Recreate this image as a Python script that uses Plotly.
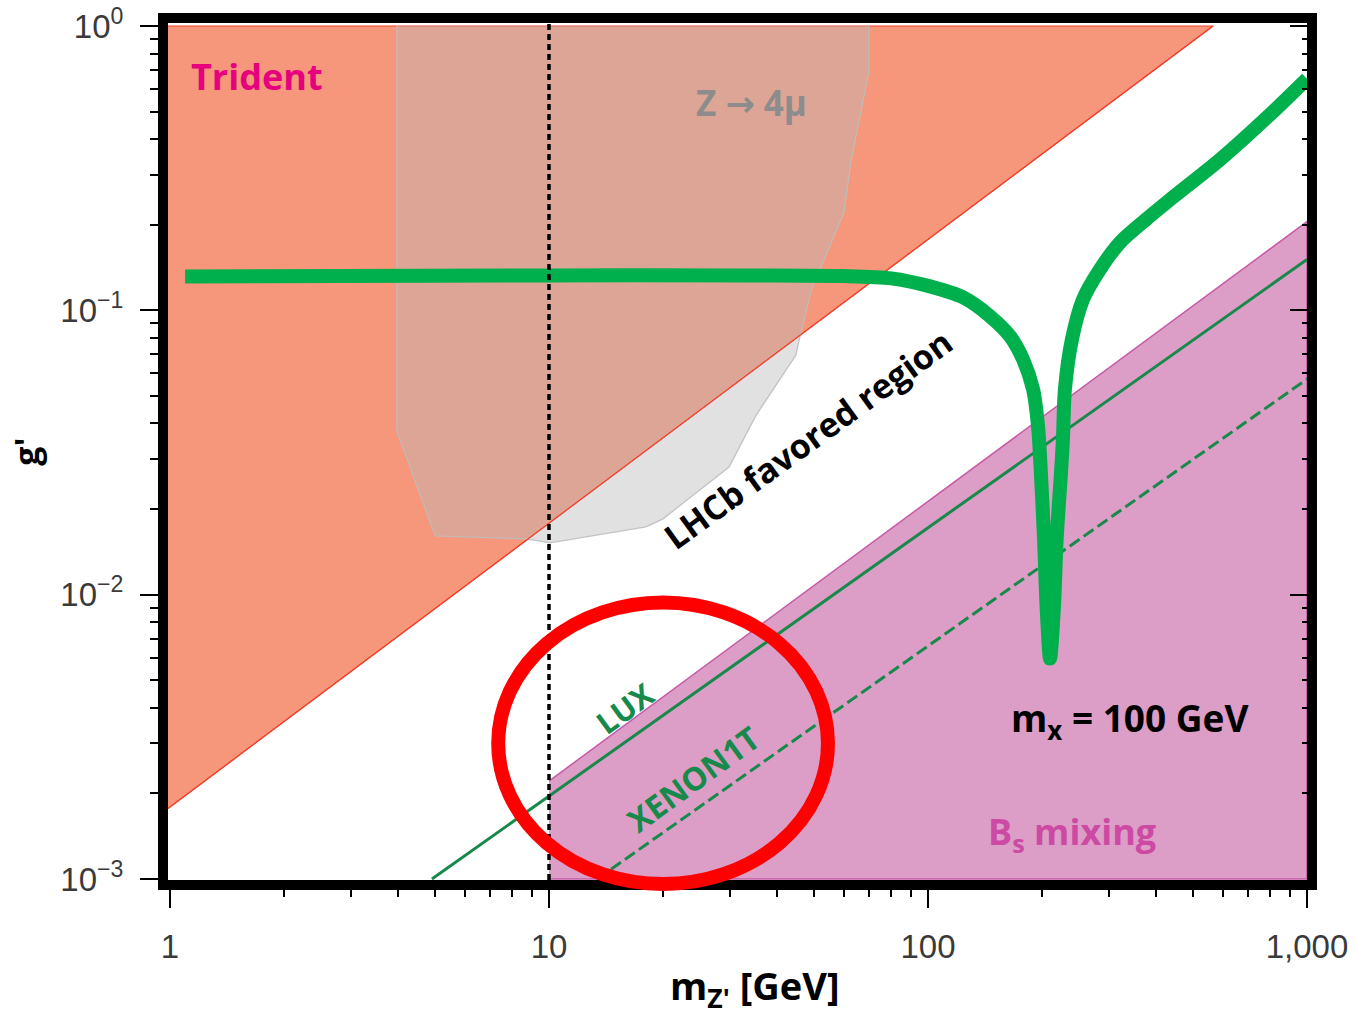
import numpy as np
import plotly.graph_objects as go

# ---- data (Z' mass in GeV, coupling g') ----
# Trident exclusion boundary (region above the line is excluded)
trident_m = [0.988, 565.0]
trident_g = [0.00177, 1.0]

# Z -> 4 mu exclusion contour
z4mu_m = [3.97, 3.97, 5.01, 8.70, 10.06, 18.03, 19.99, 29.86, 35.2, 44.8, 45.7,
          49.4, 60.0, 62.6, 69.8, 69.8]
z4mu_g = [1.0, 0.0376, 0.0161, 0.0157, 0.01522, 0.01733, 0.01848, 0.02812,
          0.0428, 0.0695, 0.0785, 0.1194, 0.2208, 0.3334, 0.690, 1.0]

# Bs mixing exclusion boundary (region below the line is excluded)
bs_m = [10.0, 1000.0]
bs_g = [0.00221, 0.205]

# Direct detection limits
lux_m = [4.91, 1000.0]
lux_g = [0.001, 0.151]
xenon_m = [13.4, 1000.0]
xenon_g = [0.001, 0.0573]

# Relic-density curve for m_chi = 100 GeV
relic_m = [1.096, 9.94, 33.9, 60.0, 80.0, 101.2, 123.7, 145.8, 164.6, 178.1, 189.3,
           195.1, 198.5, 202.4, 205.5, 209.9, 215.0, 218.5, 224.4, 227.0, 229.8,
           239.8, 256.5, 284.3, 321.2, 375.0, 435.2, 589.5, 798.3, 1000.0]
relic_g = [0.1316, 0.1327, 0.1327, 0.1320, 0.1295, 0.1214, 0.1111, 0.0953, 0.0811,
           0.0673, 0.0528, 0.0392, 0.0270, 0.0157, 0.00914, 0.00596, 0.00914,
           0.0157, 0.0270, 0.0353, 0.0528, 0.0791, 0.1093, 0.1393, 0.1733,
           0.2080, 0.2450, 0.3388, 0.4877, 0.6517]

# LHCb reference mass
lhcb_m = 10.0

# Axis ticks
x_ticks = [1, 10, 100, 1000]
x_ticktext = ["1", "10", "100", "1,000"]
y_ticks = [1e-3, 1e-2, 1e-1, 1]
y_ticktext = ["10<sup>\u22123</sup>", "10<sup>\u22122</sup>", "10<sup>\u22121</sup>", "10<sup>0</sup>"]
minor_x = [k * 10 ** d for d in range(0, 3) for k in range(2, 10)]
minor_y = [k * 10 ** d for d in range(-3, 0) for k in range(2, 10)]

X_RANGE = [-0.00528, 3.0]
Y_RANGE = [-3.0035, 0.0105]

SALMON = "#F6967A"
PINK = "#DC9DC6"
GREEN = "#00B04C"
DKGREEN = "#17894A"

fig = go.Figure()

# Bs mixing region
fig.add_trace(go.Scatter(
    x=bs_m + [bs_m[-1], bs_m[0]], y=bs_g + [1e-3, 1e-3],
    fill="toself", fillcolor=PINK, mode="lines",
    line=dict(color="#C65AA6", width=1.5), hoverinfo="skip", showlegend=False))

# Trident region
fig.add_trace(go.Scatter(
    x=trident_m + [trident_m[0]], y=trident_g + [trident_g[-1]],
    fill="toself", fillcolor=SALMON, mode="lines",
    line=dict(color="#F0442E", width=1.2), hoverinfo="skip", showlegend=False))

# Z -> 4 mu region
fig.add_trace(go.Scatter(
    x=z4mu_m, y=z4mu_g, fill="toself", fillcolor="rgba(186,186,186,0.43)",
    mode="lines", line=dict(color="rgba(190,190,190,0.9)", width=1.3),
    hoverinfo="skip", showlegend=False))

# Trident edge drawn again above the grey contour
fig.add_trace(go.Scatter(
    x=trident_m, y=trident_g, mode="lines",
    line=dict(color="#F0442E", width=1.2), hoverinfo="skip", showlegend=False))

# LUX and XENON1T
fig.add_trace(go.Scatter(
    x=lux_m, y=lux_g, mode="lines", line=dict(color=DKGREEN, width=3),
    hoverinfo="skip", showlegend=False))
fig.add_trace(go.Scatter(
    x=xenon_m, y=xenon_g, mode="lines",
    line=dict(color=DKGREEN, width=3, dash="12px,5px"),
    hoverinfo="skip", showlegend=False))

# Relic density curve
fig.add_trace(go.Scatter(
    x=relic_m, y=relic_g, mode="lines",
    line=dict(color=GREEN, width=14, shape="spline", smoothing=0.8),
    hoverinfo="skip", showlegend=False))

# Vertical marker at 10 GeV (on the right-hand axis, which mirrors the left)
fig.add_trace(go.Scatter(
    x=[lhcb_m, lhcb_m], y=[10 ** Y_RANGE[0], 10 ** Y_RANGE[1]], yaxis="y2",
    mode="lines", line=dict(color="black", width=3.5, dash="6px,4px"),
    hoverinfo="skip", showlegend=False))

L, R, T, B = 168, 49, 23, 135
W, H = 1356, 1015


def to_paper_x(m):
    return (np.log10(m) - X_RANGE[0]) / (X_RANGE[1] - X_RANGE[0])


def to_paper_y(g):
    return (np.log10(g) - Y_RANGE[0]) / (Y_RANGE[1] - Y_RANGE[0])


# Highlight ellipse around the low-mass corner
ell_c = (20.0, 0.0030)
ell_dx, ell_dy = 0.435, 0.495  # half-axes in decades
fig.add_shape(
    type="circle", xref="paper", yref="paper", layer="above",
    x0=to_paper_x(ell_c[0] / 10 ** ell_dx), x1=to_paper_x(ell_c[0] * 10 ** ell_dx),
    y0=to_paper_y(ell_c[1] / 10 ** ell_dy), y1=to_paper_y(ell_c[1] * 10 ** ell_dy),
    line=dict(color="#FF0000", width=14))

LBL = "Open Sans"


def label(m, g, text, color, size, angle=0):
    fig.add_annotation(
        x=np.log10(m), y=np.log10(g), xref="x", yref="y", text=text,
        showarrow=False, textangle=angle,
        font=dict(family=LBL, size=size, color=color, weight="bold"))


label(1.70, 0.662, "Trident", "#E6007E", 36)
label(34.3, 0.537,
      "Z <span style='font-family:DejaVu Sans'>\u2192</span> 4\u03bc",
      "#8C8C8C", 35)
label(48.2, 0.0353, "LHCb favored region", "black", 34, -36)
label(15.87, 0.00398, "LUX", DKGREEN, 31, -36)
label(24.0, 0.00226, "XENON1T", DKGREEN, 32, -36)
label(341, 0.00361, "m<sub>x</sub> = 100 GeV", "black", 37)
label(239.8, 0.00145, "B<sub>s</sub> mixing", "#CC4AA3", 36)

# x-axis title, placed a little right of centre under the frame
fig.add_annotation(
    x=0.5154, y=-0.1260, xref="paper", yref="paper", xanchor="center",
    yanchor="middle", showarrow=False,
    text="<b>m<sub>Z'</sub> [GeV]</b>",
    font=dict(family=LBL, size=38, color="black"))

tickfont = dict(family="Liberation Sans", size=33, color="#3a3a3a")

fig.update_layout(
    width=W, height=H, margin=dict(l=L, r=R, t=T, b=B, autoexpand=False),
    paper_bgcolor="white", plot_bgcolor="white",
    xaxis=dict(
        type="log", range=X_RANGE, showgrid=False, zeroline=False, automargin=False,
        showline=True, linewidth=10, linecolor="black", mirror=True,
        ticks="outside", ticklen=18, tickwidth=2, tickcolor="black",
        tickmode="array", tickvals=x_ticks, ticktext=x_ticktext, tickfont=tickfont,
        ticklabelstandoff=10,
        minor=dict(ticks="outside", ticklen=7, tickwidth=2, tickcolor="black",
                   tickmode="array", tickvals=minor_x, showgrid=False)),
    yaxis=dict(
        type="log", range=Y_RANGE, showgrid=False, zeroline=False, automargin=False,
        showline=True, linewidth=10, linecolor="black", mirror=True,
        ticks="outside", ticklen=18, tickwidth=2, tickcolor="black",
        tickmode="array", tickvals=y_ticks, ticktext=y_ticktext, tickfont=tickfont,
        ticklabelstandoff=10,
        minor=dict(ticks="outside", ticklen=8, tickwidth=2, tickcolor="black",
                   tickmode="array", tickvals=minor_y, showgrid=False),
        title=dict(text="<b>g'</b>", standoff=14,
                   font=dict(family=LBL, size=34, color="black"))),
    yaxis2=dict(
        type="log", range=Y_RANGE, overlaying="y", side="right", automargin=False,
        showgrid=False, zeroline=False, showline=False, showticklabels=False,
        ticks="inside", ticklen=17, tickwidth=2, tickcolor="black",
        tickmode="array", tickvals=y_ticks,
        minor=dict(ticks="inside", ticklen=5, tickwidth=2, tickcolor="black",
                   tickmode="array", tickvals=minor_y, showgrid=False)),
)

fig.write_html("out.html")
